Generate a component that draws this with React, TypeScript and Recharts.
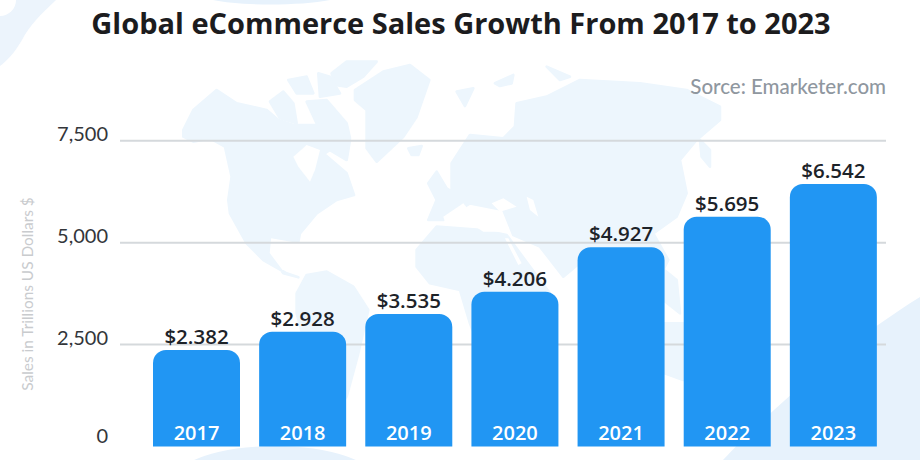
import React from "react";
import { BarChart, Bar, XAxis, YAxis, CartesianGrid, LabelList } from "recharts";

const years = ["2017", "2018", "2019", "2020", "2021", "2022", "2023"];
const barHeights = [2367, 2816, 3250, 3797, 4886, 5637, 6439];
const valueLabels = ["$2.382", "$2.928", "$3.535", "$4.206", "$4.927", "$5.695", "$6.542"];
const yTicks = [0, 2500, 5000, 7500];
const yTickLabels = ["0", "2,500", "5,000", "7,500"];

const rows = years.map((year, i) => ({ year, height: barHeights[i], label: valueLabels[i] }));

const FONT = "'Open Sans', sans-serif";
const MAP = "#edf6fd";
const SWEEP = "#e7f2fc";

const YTick = (props: any) => {
  const { y, payload } = props;
  const i = yTicks.indexOf(payload.value);
  return (
    <text x={108} y={y + (payload.value === 0 ? -4 : 0)} textAnchor="end" fontFamily="Lato, sans-serif" fontSize={20} fill="#33363a">
      {yTickLabels[i]}
    </text>
  );
};

const Backdrop = () => (
  <svg width={920} height={460} style={{ position: "absolute", left: 0, top: 0 }}>
    <rect width={920} height={460} fill="#ffffff" />
    <path d="M0 0 L56 0 C40 15 30 25 22 40 C15 52 8 60 0 66 Z" fill="#ecf4fc" />
    <circle cx={0} cy={0} r={16} fill="#ffffff" />
    <path d="M213 0 C240 6 300 6 330 0 Z" fill={SWEEP} />
    <ellipse cx={275} cy={480} rx={100} ry={34} fill={SWEEP} />
    <path d="M723 460 C770 410 850 340 920 297 L920 460 Z" fill={SWEEP} />
    <g fill={MAP} stroke={MAP} strokeWidth={8} strokeLinejoin="round" transform="translate(150 60) scale(0.3333)">
      {/* North America */}
      <path d="M100 210 L130 150 L200 90 L260 130 L350 150 L385 180 L430 195 L500 195 L545 210 L600 240 L590 300 L540 270 L510 290 L480 360 L440 300 L435 270 L520 280 L590 340 L612 405 L560 420 L500 460 L450 520 L445 545 L360 530 L355 580 L400 640 L445 652 L410 640 L340 600 L290 550 L240 460 L235 420 L245 350 L225 260 L180 235 L130 245 L100 230 Z" />
      {/* Arctic islands */}
      <path d="M360 125 L400 95 L430 130 L440 190 L390 175 Z" />
      <path d="M415 60 L470 50 L490 100 L440 100 Z" />
      <path d="M505 40 L540 50 L570 100 L510 110 Z" />
      <path d="M545 40 L590 5 L680 5 L640 50 L590 80 L555 75 Z" />
      <path d="M470 125 L530 120 L590 190 L600 235 L545 205 L500 190 Z" />
      {/* Greenland */}
      <path d="M615 90 L700 35 L780 15 L838 60 L800 170 L760 230 L680 305 L650 265 L650 150 L615 120 Z" />
      <path d="M775 265 L815 258 L805 285 L785 285 Z" />
      <path d="M920 95 L970 85 L945 138 Z" />
      <path d="M1035 70 L1090 45 L1085 70 L1050 78 Z" />
      <path d="M1190 20 L1260 50 L1230 60 Z" />
      {/* South America */}
      <path d="M440 700 L470 645 L530 635 L610 680 L655 750 L625 880 L590 1010 L530 1080 L490 1000 L465 850 L440 760 Z" />
      {/* Eurasia */}
      <path d="M835 480 L860 420 L835 370 L860 335 L890 385 L905 395 L905 310 L960 225 L1060 235 L1095 200 L1100 130 L1190 110 L1290 60 L1470 70 L1610 90 L1710 140 L1710 180 L1640 240 L1590 300 L1610 400 L1580 470 L1510 520 L1555 600 L1530 650 L1500 640 L1500 760 L1440 700 L1400 640 L1300 600 L1240 650 L1170 560 L1090 525 L1060 450 L960 430 L880 480 Z" />
      <path d="M1650 240 L1680 270 L1680 320 L1655 290 Z" />
      {/* Africa */}
      <path d="M800 570 L860 500 L1000 510 L1070 525 L1140 620 L1200 700 L1160 800 L1130 970 L1060 1050 L1010 920 L960 790 L930 690 L840 670 L800 620 Z" />
      {/* Maritime Asia and Australia */}
      <path d="M1530 620 L1580 660 L1590 760 L1540 720 Z" />
      <path d="M1490 790 L1600 790 L1700 850 L1690 950 L1600 960 L1490 920 Z" />
    </g>
    <g fill="#ffffff" transform="translate(150 60) scale(0.3333)">
      <path d="M880 470 L940 430 L990 490 L1060 490 L1065 515 L1000 515 L930 470 L885 485 Z" />
      <path d="M1025 430 L1060 415 L1100 440 L1050 455 Z" />
      <path d="M430 290 L470 255 L510 270 L495 330 L480 365 L445 320 Z" />
      <path d="M1130 410 L1150 420 L1165 470 L1140 450 Z" />
      <path d="M1065 535 L1075 535 L1115 610 L1105 615 Z" />
    </g>
    <text x={461} y={34} textAnchor="middle" fontFamily={FONT} fontSize={29} fontWeight={700} fill="#1c1c1e">
      Global eCommerce Sales Growth From 2017 to 2023
    </text>
    <text x={886} y={94} textAnchor="end" fontFamily="Lato, sans-serif" fontSize={20.5} fontWeight={500} fill="#8f979f">
      Sorce: Emarketer.com
    </text>
    <text transform="translate(33 294) rotate(-90)" textAnchor="middle" fontFamily="Lato, sans-serif" fontSize={15.4} fill="#c9cbce">
      Sales in Trillions US Dollars $
    </text>
  </svg>
);

export default function App() {
  return (
    <div style={{ position: "absolute", left: 0, top: 0, width: 920, height: 460, overflow: "hidden" }}>
      <Backdrop />
      <div style={{ position: "absolute", left: 0, top: 0 }}>
        <BarChart width={920} height={460} data={rows} margin={{ top: 140.7, right: 34, bottom: 13.5, left: 0 }} barCategoryGap={0}>
          <CartesianGrid vertical={false} horizontalValues={[2500, 5000, 7500]} stroke="#d5d9dc" strokeWidth={2} />
          <XAxis dataKey="year" height={0} axisLine={false} tickLine={false} padding={{ left: 23, right: 0 }} tick={false} interval={0} />
          <YAxis width={120} domain={[0, 7500]} ticks={yTicks} axisLine={false} tickLine={false} tick={<YTick />} />
          <Bar dataKey="height" barSize={87} fill="#2196f3" radius={[13, 13, 0, 0]} isAnimationActive={false}>
            <LabelList dataKey="label" position="top" offset={6} fontFamily={FONT} fontSize={20.5} fontWeight={600} fill="#1d2329" />
            <LabelList dataKey="year" position="insideBottom" offset={7} fontFamily={FONT} fontSize={20} fontWeight={600} fill="#ffffff" />
          </Bar>
        </BarChart>
      </div>
    </div>
  );
}
